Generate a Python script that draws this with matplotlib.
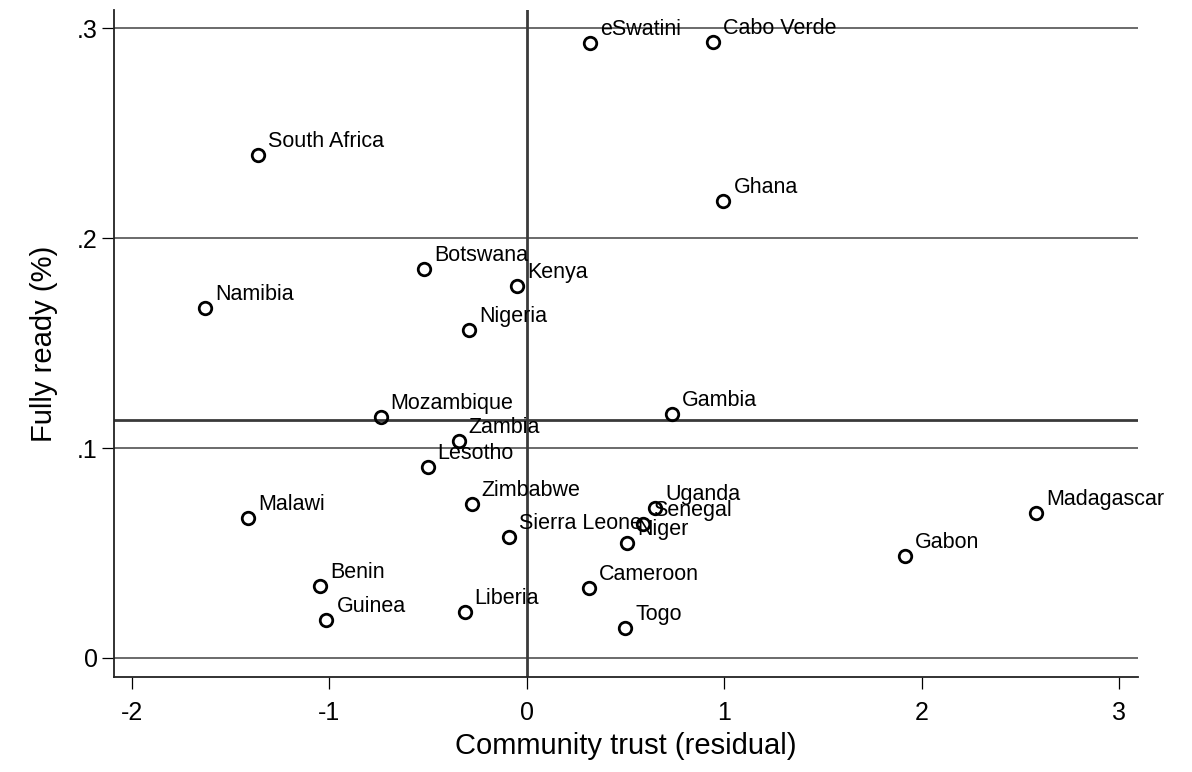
import matplotlib
matplotlib.use("Agg")
import matplotlib.pyplot as plt

plt.rcParams["font.family"] = ["Liberation Sans", "DejaVu Sans"]

countries = ["eSwatini", "Cabo Verde", "South Africa", "Ghana", "Botswana", "Kenya",
             "Namibia", "Nigeria", "Mozambique", "Gambia", "Zambia", "Lesotho",
             "Zimbabwe", "Uganda", "Senegal", "Niger", "Sierra Leone", "Malawi",
             "Madagascar", "Gabon", "Benin", "Cameroon", "Guinea", "Liberia", "Togo"]
trust = [0.32, 0.94, -1.36, 0.995, -0.52, -0.05,
         -1.63, -0.294, -0.741, 0.736, -0.345, -0.503,
         -0.279, 0.648, 0.587, 0.506, -0.091, -1.41,
         2.579, 1.914, -1.046, 0.315, -1.015, -0.315, 0.497]
ready = [0.2929, 0.2933, 0.2395, 0.2176, 0.1852, 0.1770,
         0.1667, 0.1562, 0.1148, 0.1162, 0.1033, 0.0910,
         0.0733, 0.0714, 0.0638, 0.0548, 0.0576, 0.0667,
         0.0690, 0.0486, 0.0343, 0.0333, 0.0181, 0.0219, 0.0143]
ready_ref = 0.1133
trust_ref = 0.0

x_ticks = [-2, -1, 0, 1, 2, 3]
y_ticks = [0, 0.1, 0.2, 0.3]
y_tick_labels = ["0", ".1", ".2", ".3"]

fig = plt.figure(figsize=(11.92, 7.72), dpi=100)
ax = fig.add_axes([0.0956, 0.1231, 0.9547 - 0.0956, 0.987 - 0.1231])

ax.set_xlim(-2.091, 3.094)
ax.set_ylim(-0.00905, 0.3086)

# horizontal grid at the labelled y ticks
for yv in y_ticks:
    ax.axhline(yv, color="#5f5f5f", lw=1.3, zorder=1)

# reference lines splitting the plane into quadrants
ax.axhline(ready_ref, color="#3a3a3a", lw=2.0, zorder=2)
ax.axvline(trust_ref, color="#3a3a3a", lw=2.0, zorder=2)

ax.plot(trust, ready, linestyle="none", marker="o", ms=9.0,
        mfc="none", mec="black", mew=2.0, zorder=3)

for name, xv, yv in zip(countries, trust, ready):
    ax.annotate(name, (xv, yv), xytext=(7.2, 10.0), textcoords="offset points",
                ha="left", va="center", fontsize=15.5, color="black", zorder=4)

ax.set_xticks(x_ticks)
ax.set_xticklabels([str(v) for v in x_ticks])
ax.set_yticks(y_ticks)
ax.set_yticklabels(y_tick_labels)
ax.tick_params(axis="both", direction="out", length=8.5, width=0.9,
               labelsize=18, color="black")
ax.tick_params(axis="x", pad=9)
ax.tick_params(axis="y", pad=3)

for side in ["top", "right"]:
    ax.spines[side].set_visible(False)
for side in ["left", "bottom"]:
    ax.spines[side].set_linewidth(1.3)
    ax.spines[side].set_color("#222222")

ax.set_xlabel("Community trust (residual)", fontsize=21, labelpad=5)
ax.set_ylabel("Fully ready (%)", fontsize=21, labelpad=14)

fig.savefig("out.png", dpi=100, facecolor="white")
